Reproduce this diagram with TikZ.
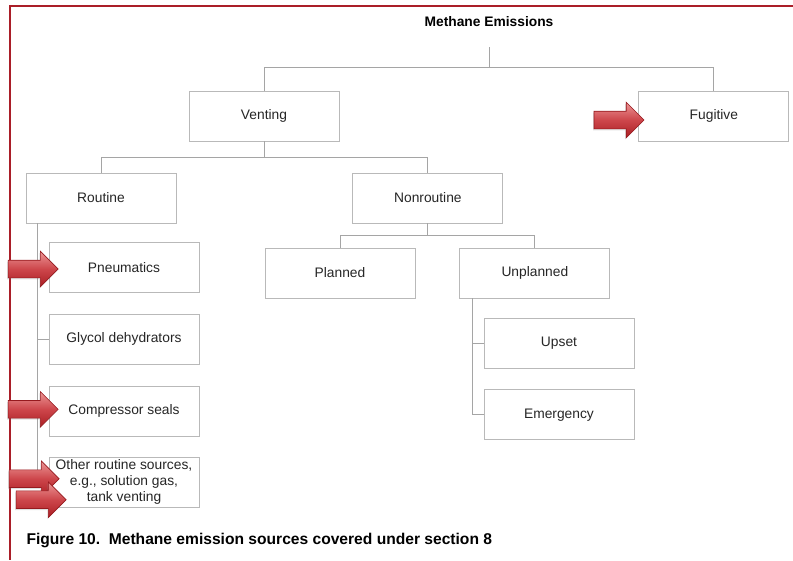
\documentclass[tikz,border=0pt]{standalone}
\usepackage{fontspec}
\setmainfont{Liberation Sans}
\usepackage{tikz}
\usetikzlibrary{shapes.arrows, positioning, shadows}
\definecolor{framered}{RGB}{170,30,40}
\definecolor{boxgray}{RGB}{185,185,185}
\definecolor{linegray}{RGB}{165,165,165}
\definecolor{arrowtop}{RGB}{236,150,150}
\definecolor{arrowmid}{RGB}{205,70,75}
\definecolor{arrowbottom}{RGB}{170,30,35}
\definecolor{arrowedge}{RGB}{150,25,30}
\tikzset{
  box/.style={
    rectangle, minimum width=150pt, minimum height=50pt, inner sep=2pt,
    align=center, draw=boxgray, line width=0.9pt, fill=white,
    text=black!85, font=\fontsize{13.8}{16}\selectfont
  },
  conn/.style={draw=linegray, line width=0.9pt},
  frame/.style={draw=framered, line width=2pt},
  redarrow/.style={
    single arrow, single arrow head extend=9pt, minimum height=50pt,
    inner sep=0pt, inner ysep=8.5pt, draw=arrowedge, line width=0.6pt,
    top color=arrowtop, bottom color=arrowbottom, middle color=arrowmid,
    drop shadow={shadow xshift=-1pt, shadow yshift=-1.5pt, opacity=0.25}
  },
  heading/.style={font=\fontsize{13.8}{16}\selectfont\bfseries, text=black}
}
\begin{document}
\begin{tikzpicture}[x=1pt, y=-1pt, node distance=21pt]
  \useasboundingbox (0,0) rectangle (793,560);
  \draw[frame] (793,6) -- (10,6) -- (10,560);

  \node[heading, minimum height=50pt] (root) at (489,22) {Methane Emissions};
  \node[box] (venting) at (264,116) {Venting};
  \node[box, right=299pt of venting] (fugitive) {Fugitive};
  \node[box] (routine) at (101,198) {Routine};
  \node[box, right=176pt of routine] (nonroutine) {Nonroutine};

  % routine sources
  \node[box] (pneu) at (124,267.5) {Pneumatics};
  \node[box, below=of pneu] (glycol) {Glycol dehydrators};
  \node[box, below=of glycol] (comp) {Compressor seals};
  \node[box, below=20pt of comp] (other) {Other routine sources,\\e.g., solution gas,\\tank venting};

  % nonroutine sources
  \node[box] (planned) at (340,273) {Planned};
  \node[box, right=44pt of planned] (unplanned) {Unplanned};
  \node[box] (upset) at (559,343) {Upset};
  \node[box, below=of upset] (emergency) {Emergency};

  \draw[conn] (root.south) -- ++(0,20) -| (venting.north);
  \draw[conn] (root.south) -- ++(0,20) -| (fugitive.north);
  \draw[conn] (venting.south) -- ++(0,16) -| (routine.north);
  \draw[conn] (venting.south) -- ++(0,16) -| (nonroutine.north);
  \draw[conn] (nonroutine.south) -- ++(0,12) -| (planned.north);
  \draw[conn] (nonroutine.south) -- ++(0,12) -| (unplanned.north);
  \foreach \c in {pneu, glycol, comp, other}
    \draw[conn] ([xshift=12pt]routine.south west) |- (\c.west);
  \foreach \c in {upset, emergency}
    \draw[conn] ([xshift=13pt]unplanned.south west) |- (\c.west);

  % highlight arrows
  \node[redarrow, anchor=tip] (fugarrow) at ([xshift=6pt, yshift=-4pt]fugitive.west) {};
  \node[redarrow, anchor=tip] (pneuarrow) at ([xshift=10pt, yshift=-1.5pt]pneu.west) {};
  \node[redarrow, anchor=tip] (comparrow) at ([xshift=10pt, yshift=2pt]comp.west) {};
  \node[redarrow, anchor=tip] (otherarrow) at ([xshift=11pt, yshift=3.5pt]other.west) {};
  \node[redarrow, anchor=tip] (tankarrow) at ([xshift=18pt, yshift=-17.5pt]other.west) {};

  \node[heading, font=\fontsize{15.6}{18}\selectfont\bfseries, anchor=west] (caption) at (23,540)
    {Figure 10.\ \ Methane emission sources covered under section 8};
\end{tikzpicture}
\end{document}
